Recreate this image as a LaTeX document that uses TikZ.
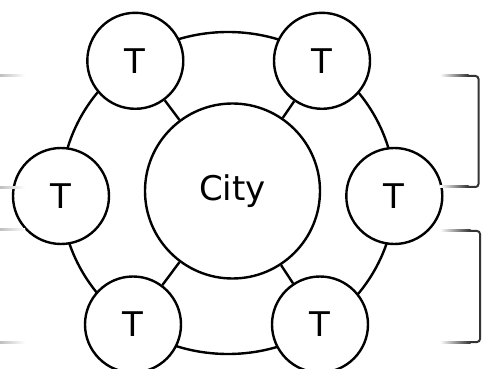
\documentclass[tikz,border=0pt]{standalone}
\usepackage{fontspec}
\setmainfont{DejaVu Sans}
\begin{document}
\begin{tikzpicture}[x=1pt, y=-1pt, line width=2.4pt,
	town/.style={draw, circle, fill=white, inner sep=0pt, minimum size=96pt, font=\fontsize{34}{40}\selectfont},
	city/.style={draw, circle, fill=white, inner sep=0pt, minimum size=175pt, font=\fontsize{34}{40}\selectfont},
	bracket/.style={draw=black!80, line width=2pt, rounded corners=3pt},
	armR/.style={left color=white, right color=black!80},
	armL/.style={left color=black!25, right color=white}]
	\useasboundingbox (0,0) rectangle (483,369);
	\def\rx{167};
	\def\ry{161};
	\coordinate (R) at (228,193);
	\draw (R) ellipse [x radius=\rx, y radius=\ry];
	\node[city] (city) at (232.5,191) {City};
	\node[town] (tl) at (135.3,60.8) {T};
	\node[town] (tr) at (322,60.8) {T};
	\node[town] (ml) at (61,196) {T};
	\node[town] (mr) at (394.3,196) {T};
	\node[town] (bl) at (133,324.5) {T};
	\node[town] (br) at (320,324.5) {T};
	\draw (city) -- (tl);
	\draw (city) -- (tr);
	\draw (city) -- (bl);
	\draw (city) -- (br);
	% brackets on the right
	\coordinate (a1) at (468,76);
	\coordinate (a2) at (468,187);
	\coordinate (b1) at (470,231);
	\coordinate (b2) at (470,342);
	\draw[bracket] (a1) -- (478.5,76) -- (478.5,187) -- (a2);
	\draw[bracket] (b1) -- (480,231) -- (480,342) -- (b2);
	\shade[armR] (440,75) rectangle (468.5,77);
	\shade[armR] (440,186) rectangle (468.5,188);
	\shade[armR] (440,230) rectangle (470.5,232);
	\shade[armR] (440,341) rectangle (470.5,343);
	% cut ends on the left
	\shade[armL] (0,75) rectangle (25,77);
	\shade[armL] (0,187) rectangle (25,189);
	\shade[armL] (0,229) rectangle (25,231);
	\shade[armL] (0,341) rectangle (25,343);
\end{tikzpicture}
\end{document}
